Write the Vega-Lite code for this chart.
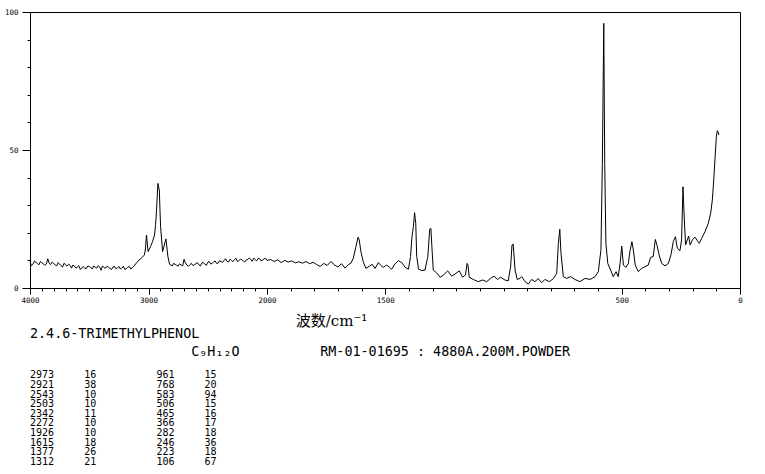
{
  "$schema": "https://vega.github.io/schema/vega-lite/v6.json",
  "width": 710,
  "height": 276,
  "autosize": {"type": "none"},
  "padding": {"left": 30, "top": 12, "right": 25, "bottom": 186},
  "background": "white",
  "config": {
    "view": {"stroke": "black", "strokeWidth": 1},
    "axis": {"grid": false, "domainColor": "black", "tickColor": "black", "labelColor": "black", "titleColor": "black", "labelFont": "DejaVu Sans Mono", "labelFontSize": 7.5, "tickWidth": 1, "domainWidth": 1}
  },
  "title": {
    "text": ["2.4.6-TRIMETHYLPHENOL", "\u200b\u00a0\u00a0\u00a0\u00a0\u00a0\u00a0\u00a0\u00a0\u00a0\u00a0\u00a0\u00a0\u00a0\u00a0\u00a0\u00a0\u00a0\u00a0\u00a0\u00a0C₉H₁₂O\u00a0\u00a0\u00a0\u00a0\u00a0\u00a0\u00a0\u00a0\u00a0\u00a0RM-01-01695 : 4880A.200M.POWDER"],
    "subtitle": [
      "2973\u00a0\u00a0\u00a0\u00a0\u00a016\u00a0\u00a0\u00a0\u00a0\u00a0\u00a0\u00a0\u00a0\u00a0\u00a0961\u00a0\u00a0\u00a0\u00a0\u00a015",
      "2921\u00a0\u00a0\u00a0\u00a0\u00a038\u00a0\u00a0\u00a0\u00a0\u00a0\u00a0\u00a0\u00a0\u00a0\u00a0768\u00a0\u00a0\u00a0\u00a0\u00a020",
      "2543\u00a0\u00a0\u00a0\u00a0\u00a010\u00a0\u00a0\u00a0\u00a0\u00a0\u00a0\u00a0\u00a0\u00a0\u00a0583\u00a0\u00a0\u00a0\u00a0\u00a094",
      "2503\u00a0\u00a0\u00a0\u00a0\u00a010\u00a0\u00a0\u00a0\u00a0\u00a0\u00a0\u00a0\u00a0\u00a0\u00a0506\u00a0\u00a0\u00a0\u00a0\u00a015",
      "2342\u00a0\u00a0\u00a0\u00a0\u00a011\u00a0\u00a0\u00a0\u00a0\u00a0\u00a0\u00a0\u00a0\u00a0\u00a0465\u00a0\u00a0\u00a0\u00a0\u00a016",
      "2272\u00a0\u00a0\u00a0\u00a0\u00a010\u00a0\u00a0\u00a0\u00a0\u00a0\u00a0\u00a0\u00a0\u00a0\u00a0366\u00a0\u00a0\u00a0\u00a0\u00a017",
      "1926\u00a0\u00a0\u00a0\u00a0\u00a010\u00a0\u00a0\u00a0\u00a0\u00a0\u00a0\u00a0\u00a0\u00a0\u00a0282\u00a0\u00a0\u00a0\u00a0\u00a018",
      "1615\u00a0\u00a0\u00a0\u00a0\u00a018\u00a0\u00a0\u00a0\u00a0\u00a0\u00a0\u00a0\u00a0\u00a0\u00a0246\u00a0\u00a0\u00a0\u00a0\u00a036",
      "1377\u00a0\u00a0\u00a0\u00a0\u00a026\u00a0\u00a0\u00a0\u00a0\u00a0\u00a0\u00a0\u00a0\u00a0\u00a0223\u00a0\u00a0\u00a0\u00a0\u00a018",
      "1312\u00a0\u00a0\u00a0\u00a0\u00a021\u00a0\u00a0\u00a0\u00a0\u00a0\u00a0\u00a0\u00a0\u00a0\u00a0106\u00a0\u00a0\u00a0\u00a0\u00a067"
    ],
    "orient": "bottom",
    "anchor": "start",
    "frame": "group",
    "font": "DejaVu Sans Mono",
    "fontSize": 13.4,
    "fontWeight": "normal",
    "lineHeight": 18,
    "color": "black",
    "subtitleFont": "DejaVu Sans Mono",
    "subtitleFontSize": 10,
    "subtitleLineHeight": 9.6,
    "subtitleColor": "black",
    "subtitlePadding": 12,
    "offset": -1
  },
  "data": {"values": [
    {"w": 4000, "i": 9.5}, {"w": 3988, "i": 8.1}, {"w": 3975, "i": 8.6}, {"w": 3962, "i": 9.8}, {"w": 3950, "i": 9.3},
    {"w": 3938, "i": 8.9}, {"w": 3925, "i": 8.4}, {"w": 3912, "i": 9.6}, {"w": 3900, "i": 9.1}, {"w": 3888, "i": 8.8},
    {"w": 3875, "i": 8.2}, {"w": 3862, "i": 8.7}, {"w": 3850, "i": 10.6}, {"w": 3838, "i": 9.0}, {"w": 3825, "i": 8.5},
    {"w": 3812, "i": 9.4}, {"w": 3800, "i": 8.9}, {"w": 3788, "i": 8.4}, {"w": 3775, "i": 8.0}, {"w": 3762, "i": 9.2},
    {"w": 3750, "i": 8.7}, {"w": 3738, "i": 8.1}, {"w": 3725, "i": 7.6}, {"w": 3712, "i": 9.0}, {"w": 3700, "i": 8.4},
    {"w": 3688, "i": 7.9}, {"w": 3675, "i": 8.6}, {"w": 3662, "i": 8.2}, {"w": 3650, "i": 7.2}, {"w": 3638, "i": 8.3},
    {"w": 3625, "i": 7.9}, {"w": 3612, "i": 7.2}, {"w": 3600, "i": 7.6}, {"w": 3588, "i": 8.1}, {"w": 3575, "i": 6.7},
    {"w": 3562, "i": 7.4}, {"w": 3550, "i": 7.7}, {"w": 3538, "i": 7.2}, {"w": 3525, "i": 7.0}, {"w": 3512, "i": 8.0},
    {"w": 3500, "i": 7.8}, {"w": 3488, "i": 7.4}, {"w": 3475, "i": 6.9}, {"w": 3462, "i": 8.0}, {"w": 3450, "i": 7.5},
    {"w": 3438, "i": 7.2}, {"w": 3425, "i": 8.1}, {"w": 3412, "i": 7.6}, {"w": 3400, "i": 6.4}, {"w": 3388, "i": 8.0},
    {"w": 3375, "i": 7.4}, {"w": 3362, "i": 7.2}, {"w": 3350, "i": 7.9}, {"w": 3338, "i": 7.5}, {"w": 3325, "i": 7.1},
    {"w": 3312, "i": 6.7}, {"w": 3300, "i": 7.6}, {"w": 3288, "i": 7.9}, {"w": 3275, "i": 7.0}, {"w": 3262, "i": 7.3},
    {"w": 3250, "i": 7.8}, {"w": 3238, "i": 6.9}, {"w": 3225, "i": 7.2}, {"w": 3212, "i": 7.9}, {"w": 3200, "i": 6.7},
    {"w": 3188, "i": 7.0}, {"w": 3175, "i": 7.5}, {"w": 3162, "i": 7.8}, {"w": 3150, "i": 6.9}, {"w": 3138, "i": 7.3},
    {"w": 3125, "i": 7.8}, {"w": 3109, "i": 8.7}, {"w": 3095, "i": 9.4}, {"w": 3081, "i": 10.1}, {"w": 3067, "i": 10.6},
    {"w": 3053, "i": 11.1}, {"w": 3034, "i": 12.0}, {"w": 3025, "i": 14.5}, {"w": 3017, "i": 19.2}, {"w": 3010, "i": 16.0},
    {"w": 3003, "i": 13.2}, {"w": 2983, "i": 15.0}, {"w": 2966, "i": 16.8}, {"w": 2949, "i": 19.2}, {"w": 2940, "i": 23.0},
    {"w": 2932, "i": 28.3}, {"w": 2921, "i": 37.9}, {"w": 2909, "i": 35.5}, {"w": 2898, "i": 22.2}, {"w": 2881, "i": 13.2},
    {"w": 2870, "i": 15.0}, {"w": 2853, "i": 17.8}, {"w": 2836, "i": 11.3}, {"w": 2822, "i": 8.6}, {"w": 2800, "i": 8.0},
    {"w": 2788, "i": 8.9}, {"w": 2775, "i": 8.6}, {"w": 2762, "i": 8.2}, {"w": 2750, "i": 7.9}, {"w": 2738, "i": 8.8},
    {"w": 2725, "i": 8.3}, {"w": 2712, "i": 8.0}, {"w": 2700, "i": 10.4}, {"w": 2688, "i": 9.1}, {"w": 2675, "i": 8.2},
    {"w": 2662, "i": 7.9}, {"w": 2650, "i": 8.5}, {"w": 2638, "i": 8.9}, {"w": 2625, "i": 8.1}, {"w": 2612, "i": 8.5},
    {"w": 2600, "i": 8.8}, {"w": 2588, "i": 9.2}, {"w": 2575, "i": 8.4}, {"w": 2562, "i": 8.0}, {"w": 2550, "i": 9.0},
    {"w": 2538, "i": 9.3}, {"w": 2525, "i": 8.6}, {"w": 2512, "i": 8.2}, {"w": 2500, "i": 9.3}, {"w": 2488, "i": 9.6},
    {"w": 2475, "i": 8.7}, {"w": 2462, "i": 8.9}, {"w": 2450, "i": 9.5}, {"w": 2438, "i": 9.8}, {"w": 2425, "i": 8.9},
    {"w": 2412, "i": 9.0}, {"w": 2400, "i": 9.9}, {"w": 2388, "i": 9.5}, {"w": 2375, "i": 9.4}, {"w": 2362, "i": 9.9},
    {"w": 2350, "i": 10.6}, {"w": 2338, "i": 9.7}, {"w": 2325, "i": 9.4}, {"w": 2312, "i": 10.4}, {"w": 2300, "i": 10.0},
    {"w": 2288, "i": 9.5}, {"w": 2275, "i": 10.3}, {"w": 2262, "i": 10.8}, {"w": 2250, "i": 9.6}, {"w": 2238, "i": 9.9},
    {"w": 2225, "i": 10.4}, {"w": 2212, "i": 10.3}, {"w": 2200, "i": 9.8}, {"w": 2188, "i": 9.4}, {"w": 2175, "i": 10.2},
    {"w": 2162, "i": 10.3}, {"w": 2150, "i": 10.9}, {"w": 2138, "i": 10.4}, {"w": 2125, "i": 9.7}, {"w": 2112, "i": 10.8},
    {"w": 2100, "i": 10.3}, {"w": 2088, "i": 9.8}, {"w": 2075, "i": 10.7}, {"w": 2062, "i": 10.6}, {"w": 2050, "i": 9.9},
    {"w": 2038, "i": 10.1}, {"w": 2025, "i": 10.5}, {"w": 2012, "i": 10.8}, {"w": 2000, "i": 10.0}, {"w": 1985, "i": 10.3},
    {"w": 1970, "i": 9.6}, {"w": 1955, "i": 10.2},
    {"w": 1940, "i": 9.2}, {"w": 1925, "i": 10.0}, {"w": 1910, "i": 9.4}, {"w": 1895, "i": 9.8}, {"w": 1880, "i": 9.1},
    {"w": 1865, "i": 9.5}, {"w": 1850, "i": 9.0}, {"w": 1835, "i": 9.6}, {"w": 1820, "i": 8.8}, {"w": 1805, "i": 9.3},
    {"w": 1790, "i": 8.5}, {"w": 1775, "i": 7.8}, {"w": 1760, "i": 8.9}, {"w": 1745, "i": 8.2}, {"w": 1730, "i": 9.6},
    {"w": 1715, "i": 8.4}, {"w": 1700, "i": 7.6}, {"w": 1685, "i": 8.8}, {"w": 1670, "i": 7.2}, {"w": 1655, "i": 8.5},
    {"w": 1645, "i": 9.0}, {"w": 1635, "i": 10.8}, {"w": 1624, "i": 15.0}, {"w": 1615, "i": 18.4}, {"w": 1610, "i": 17.4},
    {"w": 1603, "i": 13.2}, {"w": 1593, "i": 9.5}, {"w": 1582, "i": 7.1}, {"w": 1565, "i": 8.0}, {"w": 1555, "i": 8.6},
    {"w": 1543, "i": 7.1}, {"w": 1529, "i": 9.2}, {"w": 1518, "i": 8.1}, {"w": 1508, "i": 7.5}, {"w": 1494, "i": 8.3},
    {"w": 1483, "i": 7.6}, {"w": 1473, "i": 6.8}, {"w": 1459, "i": 8.7}, {"w": 1445, "i": 9.9}, {"w": 1430, "i": 9.2},
    {"w": 1416, "i": 7.5}, {"w": 1402, "i": 6.8}, {"w": 1393, "i": 11.4}, {"w": 1387, "i": 18.6}, {"w": 1381, "i": 22.2},
    {"w": 1376, "i": 27.3}, {"w": 1371, "i": 23.4}, {"w": 1367, "i": 11.4}, {"w": 1359, "i": 6.8}, {"w": 1346, "i": 6.3},
    {"w": 1332, "i": 6.5}, {"w": 1320, "i": 11.4}, {"w": 1312, "i": 21.3}, {"w": 1307, "i": 21.6}, {"w": 1302, "i": 13.8},
    {"w": 1297, "i": 6.5}, {"w": 1283, "i": 5.5}, {"w": 1268, "i": 3.9}, {"w": 1254, "i": 4.7}, {"w": 1236, "i": 6.2},
    {"w": 1219, "i": 4.3}, {"w": 1201, "i": 5.3}, {"w": 1187, "i": 6.2}, {"w": 1173, "i": 3.9}, {"w": 1161, "i": 4.7},
    {"w": 1154, "i": 8.9}, {"w": 1150, "i": 8.3}, {"w": 1145, "i": 3.9}, {"w": 1128, "i": 3.1}, {"w": 1107, "i": 2.3},
    {"w": 1088, "i": 2.9}, {"w": 1071, "i": 2.3}, {"w": 1054, "i": 3.5}, {"w": 1040, "i": 4.3}, {"w": 1026, "i": 3.1},
    {"w": 1012, "i": 3.9}, {"w": 994, "i": 2.9}, {"w": 980, "i": 2.6}, {"w": 970, "i": 7.7}, {"w": 964, "i": 15.6},
    {"w": 959, "i": 15.9}, {"w": 951, "i": 6.5}, {"w": 942, "i": 3.1}, {"w": 930, "i": 3.5}, {"w": 923, "i": 4.1},
    {"w": 909, "i": 2.3}, {"w": 895, "i": 1.4}, {"w": 881, "i": 3.1}, {"w": 867, "i": 2.3}, {"w": 853, "i": 3.4},
    {"w": 839, "i": 1.9}, {"w": 825, "i": 3.1}, {"w": 806, "i": 2.3}, {"w": 789, "i": 3.4}, {"w": 775, "i": 5.3},
    {"w": 768, "i": 16.2}, {"w": 762, "i": 21.3}, {"w": 757, "i": 12.6}, {"w": 747, "i": 4.1}, {"w": 733, "i": 3.5},
    {"w": 716, "i": 4.1}, {"w": 698, "i": 3.1}, {"w": 677, "i": 2.3}, {"w": 655, "i": 3.5}, {"w": 634, "i": 3.1},
    {"w": 613, "i": 4.1}, {"w": 599, "i": 5.9}, {"w": 588, "i": 13.8}, {"w": 582, "i": 45.2}, {"w": 576, "i": 95.9},
    {"w": 572, "i": 45.2}, {"w": 567, "i": 16.2}, {"w": 559, "i": 8.9}, {"w": 547, "i": 6.5}, {"w": 536, "i": 4.1},
    {"w": 524, "i": 5.9}, {"w": 515, "i": 4.1}, {"w": 507, "i": 8.9}, {"w": 500, "i": 15.2}, {"w": 493, "i": 8.3},
    {"w": 482, "i": 7.5}, {"w": 472, "i": 8.9}, {"w": 465, "i": 13.5}, {"w": 457, "i": 16.8}, {"w": 451, "i": 13.8},
    {"w": 443, "i": 8.3}, {"w": 430, "i": 5.9}, {"w": 416, "i": 7.1}, {"w": 402, "i": 7.7}, {"w": 388, "i": 8.3},
    {"w": 378, "i": 11.1}, {"w": 367, "i": 11.4}, {"w": 358, "i": 17.6}, {"w": 351, "i": 15.5}, {"w": 342, "i": 12.0},
    {"w": 331, "i": 8.9}, {"w": 317, "i": 8.0}, {"w": 303, "i": 8.9}, {"w": 292, "i": 12.0}, {"w": 282, "i": 16.8},
    {"w": 273, "i": 18.6}, {"w": 265, "i": 14.4}, {"w": 254, "i": 13.5}, {"w": 247, "i": 17.4}, {"w": 241, "i": 36.7},
    {"w": 236, "i": 25.8}, {"w": 230, "i": 15.6}, {"w": 223, "i": 17.4}, {"w": 217, "i": 18.8}, {"w": 211, "i": 15.6},
    {"w": 200, "i": 17.6}, {"w": 190, "i": 18.4}, {"w": 180, "i": 17.1}, {"w": 172, "i": 16.2}, {"w": 162, "i": 18.0},
    {"w": 148, "i": 20.4}, {"w": 134, "i": 23.4}, {"w": 124, "i": 27.1}, {"w": 117, "i": 31.9}, {"w": 111, "i": 39.1},
    {"w": 106, "i": 46.4}, {"w": 100, "i": 54.8}, {"w": 96, "i": 57.0}, {"w": 92, "i": 56.3}, {"w": 89, "i": 55.4}
  ]},
  "mark": {"type": "line", "color": "black", "strokeWidth": 1, "interpolate": "linear"},
  "encoding": {
    "x": {
      "field": "w",
      "type": "quantitative",
      "scale": {"domain": [4000, 2000, 0], "range": [0, 237, 710], "nice": false, "zero": false},
      "axis": {
        "values": [4000, 3900, 3800, 3700, 3600, 3500, 3400, 3300, 3200, 3100, 3000, 2900, 2800, 2700, 2600, 2500, 2400, 2300, 2200, 2100, 2000, 1900, 1800, 1700, 1600, 1500, 1400, 1300, 1200, 1100, 1000, 900, 800, 700, 600, 500, 400, 300, 200, 100, 0],
        "format": "d",
        "labelExpr": "indexof([4000,3000,2000,1500,500,0], datum.value) >= 0 ? datum.label : ''",
        "labelOverlap": false,
        "labelFlush": false,
        "tickSize": {"condition": {"test": "indexof([4000,3000,2000,1500,500,0], datum.value) >= 0", "value": 6}, "value": 3},
        "labelPadding": 2,
        "title": "波数/cm⁻¹",
        "titleFont": "DejaVu Serif, Noto Sans CJK SC",
        "titleFontSize": 15,
        "titleFontWeight": "normal",
        "titleX": 301,
        "titleY": 37,
        "titleAlign": "center",
        "titleBaseline": "alphabetic"
      }
    },
    "y": {
      "field": "i",
      "type": "quantitative",
      "scale": {"domain": [0, 100], "nice": false, "zero": false},
      "axis": {
        "values": [0, 10, 20, 30, 40, 50, 60, 70, 80, 90, 100],
        "format": "d",
        "labelExpr": "datum.value % 50 === 0 ? datum.label : ''",
        "labelOverlap": false,
        "labelFlush": false,
        "tickSize": {"condition": {"test": "datum.value % 50 === 0", "value": 8}, "value": 3},
        "labelPadding": 4,
        "title": null
      }
    }
  }
}
